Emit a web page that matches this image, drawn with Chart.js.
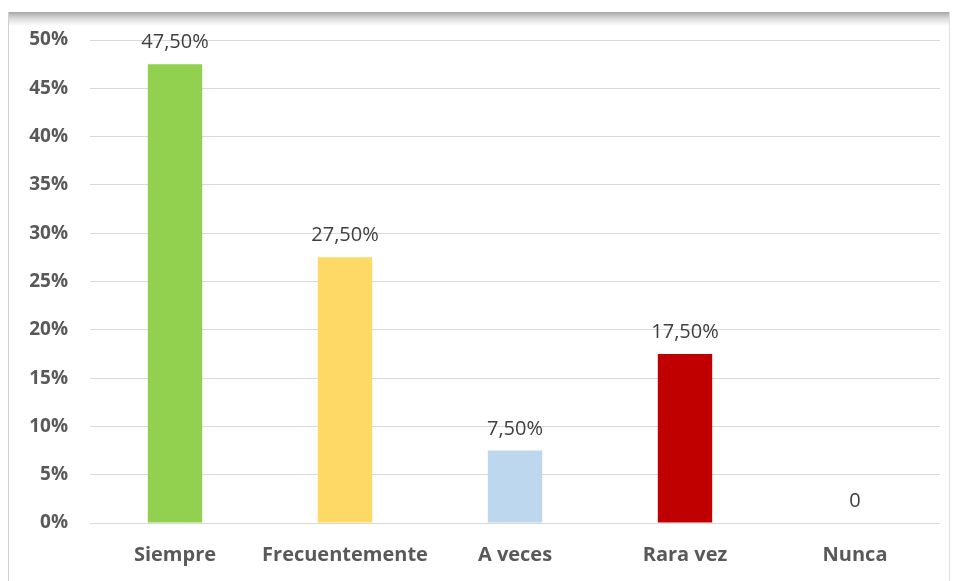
<!DOCTYPE html>
<html>
<head>
<meta charset="utf-8">
<script src="https://cdn.jsdelivr.net/npm/chart.js@4"></script>
<style>
  body { margin: 0; background: #fff; }
  #frame {
    position: absolute; left: 8px; top: 12px; width: 940px; height: 575px;
    border-left: 1px solid #d0d0d0; border-right: 1px solid #e0e0e0;
    background: linear-gradient(to bottom, #a8a8a8 0px, #d8d8d8 6px, #ffffff 14px);
  }
  #wrap { position: absolute; left: 0; top: 0; width: 954px; height: 581px; }
</style>
</head>
<body>
<div id="frame"></div>
<div id="wrap"><canvas id="myChart"></canvas></div>
<script>
var categorias = ['Siempre', 'Frecuentemente', 'A veces', 'Rara vez', 'Nunca'];
var valores = [47.5, 27.5, 7.5, 17.5, 0];
var etiquetas = ['47,50%', '27,50%', '7,50%', '17,50%', '0'];
var colores = ['#92d050', '#ffd966', '#bdd7ee', '#c00000', '#ffffff'];

var etiquetasPlugin = {
  id: 'etiquetas',
  afterDatasetsDraw: function(chart) {
    var ctx = chart.ctx;
    var meta = chart.getDatasetMeta(0);
    ctx.save();
    ctx.font = '20px "Open Sans"';
    ctx.fillStyle = '#404040';
    ctx.textAlign = 'center';
    ctx.textBaseline = 'alphabetic';
    meta.data.forEach(function(bar, i) {
      ctx.fillText(etiquetas[i], bar.x, bar.y - 16);
    });
    ctx.restore();
  }
};

function draw(){
var ctx = document.getElementById('myChart').getContext('2d');
var myChart = new Chart(ctx, {
    type: 'bar',
    data: {
        labels: categorias,
        datasets: [{
            data: valores,
            backgroundColor: colores,
            barPercentage: 0.64,
            categoryPercentage: 0.5
        }]
    },
    options: {
        responsive: false,
        animation: false,
        layout: { padding: { left: 10, right: 14, top: 40, bottom: 6 } },
        plugins: { legend: { display: false }, tooltip: { enabled: false } },
        scales: {
            y: {
                min: 0, max: 50,
                ticks: {
                    stepSize: 5, padding: 22, color: '#595959',
                    font: { family: 'Open Sans', size: 19, weight: 'bold' },
                    callback: function(v) { return v + '%'; }
                },
                grid: { color: '#d9d9d9', drawTicks: false },
                border: { display: false },
                afterFit: function(s) { s.width = 80; }
            },
            x: {
                ticks: {
                    padding: 12, color: '#595959',
                    maxRotation: 0, minRotation: 0, autoSkip: false,
                    font: { family: 'Open Sans', size: 20, weight: 'bold' }
                },
                grid: { display: false },
                border: { display: false },
                afterFit: function(s) { s.height = 52; }
            }
        }
    },
    plugins: [etiquetasPlugin]
});
};
var c = document.getElementById('myChart');
c.width = 954; c.height = 581;
draw();
</script>
</body>
</html>
